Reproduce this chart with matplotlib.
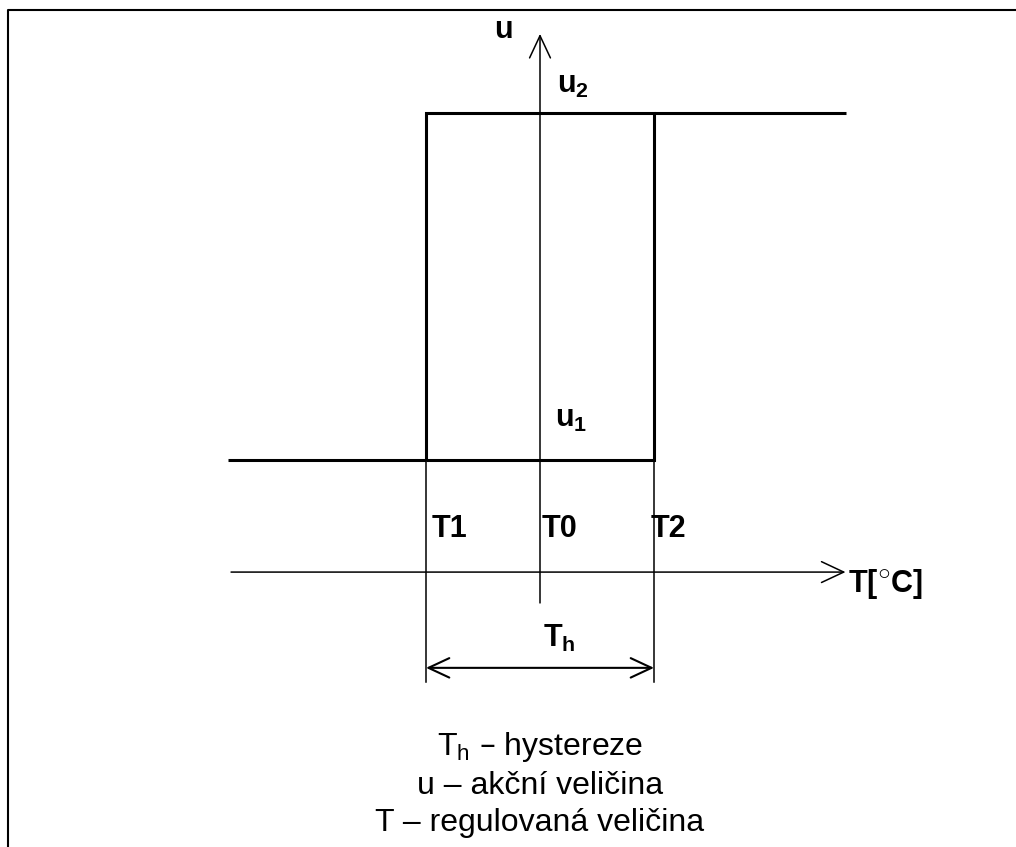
import matplotlib
matplotlib.use("Agg")
import matplotlib.pyplot as plt

plt.rcParams['font.family'] = ['Liberation Sans', 'DejaVu Sans']
plt.rcParams['mathtext.default'] = 'regular'

# hysteresis data (T in units of half-hysteresis, u normalised)
T1, T0, T2 = -1.0, 0.0, 1.0
u1, u2 = 0.0, 1.0
T_left, T_right = -2.74, 2.68
low_T = [T_left, T1]
low_u = [u1, u1]
loop_T = [T1, T1, T2, T2, T1]
loop_u = [u1, u2, u2, u1, u1]
high_T = [T2, T_right]
high_u = [u2, u2]
point_labels = ["T1", "T0", "T2"]
point_T = [T1, T0, T2]
legend_lines = ["T$_{h}$ – hystereze", "u – akční veličina", "T – regulovaná veličina"]

# axes positions
T_axis_u = -0.323
T_axis_from, T_axis_to = -2.71, 2.68
u_axis_from, u_axis_to = -0.412, 1.228
dim_u = -0.599
ext_u = -0.640

fig = plt.figure(figsize=(10.16, 8.47), dpi=100)
ax = fig.add_axes([0, 0, 1, 1])
ax.set_xlim(-540 / 114, (1016 - 540) / 114)
ax.set_ylim((460 - 847) / 347, 460 / 347)
ax.axis('off')

# frame
ax.plot([8 / 1016, 8 / 1016, 1], [0, 1 - 10 / 847, 1 - 10 / 847], transform=ax.transAxes,
        color='black', lw=1.5, solid_capstyle='butt', clip_on=False)

thick = dict(color='black', lw=2.2, solid_capstyle='butt', solid_joinstyle='miter')
ax.plot(low_T, low_u, **thick)
ax.plot(loop_T, loop_u, **thick)
ax.plot(high_T, high_u, **thick)

arrow = dict(arrowstyle="->,head_length=1.6,head_width=0.75", color='black', lw=1.1,
             shrinkA=0, shrinkB=0, mutation_scale=10)
# T axis
ax.annotate("", xy=(T_axis_to, T_axis_u), xytext=(T_axis_from, T_axis_u), arrowprops=arrow)
# u axis
ax.annotate("", xy=(T0, u_axis_to), xytext=(T0, u_axis_from), arrowprops=arrow)

# extension lines and Th dimension
for t in (T1, T2):
    ax.plot([t, t], [u1, ext_u], color='black', lw=1.1)
dim_arrow = dict(arrowstyle="<->,head_length=1.5,head_width=0.7", color='black', lw=1.5,
                 shrinkA=0, shrinkB=0, mutation_scale=10)
ax.annotate("", xy=(T2, dim_u), xytext=(T1, dim_u), arrowprops=dim_arrow)

bold = dict(fontsize=22, fontweight='bold', va='baseline', ha='left')
ax.text(-0.40, 1.216, "u", **bold)
ax.text(0.149, 1.058, "u$_{2}$", **bold)
ax.text(0.132, 0.095, "u$_{1}$", **bold)
for lab, t, dx in zip(point_labels, point_T, [0.053, 0.018, -0.026]):
    ax.text(t + dx, -0.222, lab, **bold)
ax.text(2.70, -0.383, "T[$^{\\bigcirc}$C]", **bold)
ax.text(0.026, -0.539, "T$_{h}$", **bold)

for line, y in zip(legend_lines, [-0.850, -0.962, -1.070]):
    ax.text(T0, y, line, fontsize=23, ha='center', va='baseline')

fig.savefig("out.png", dpi=100)
